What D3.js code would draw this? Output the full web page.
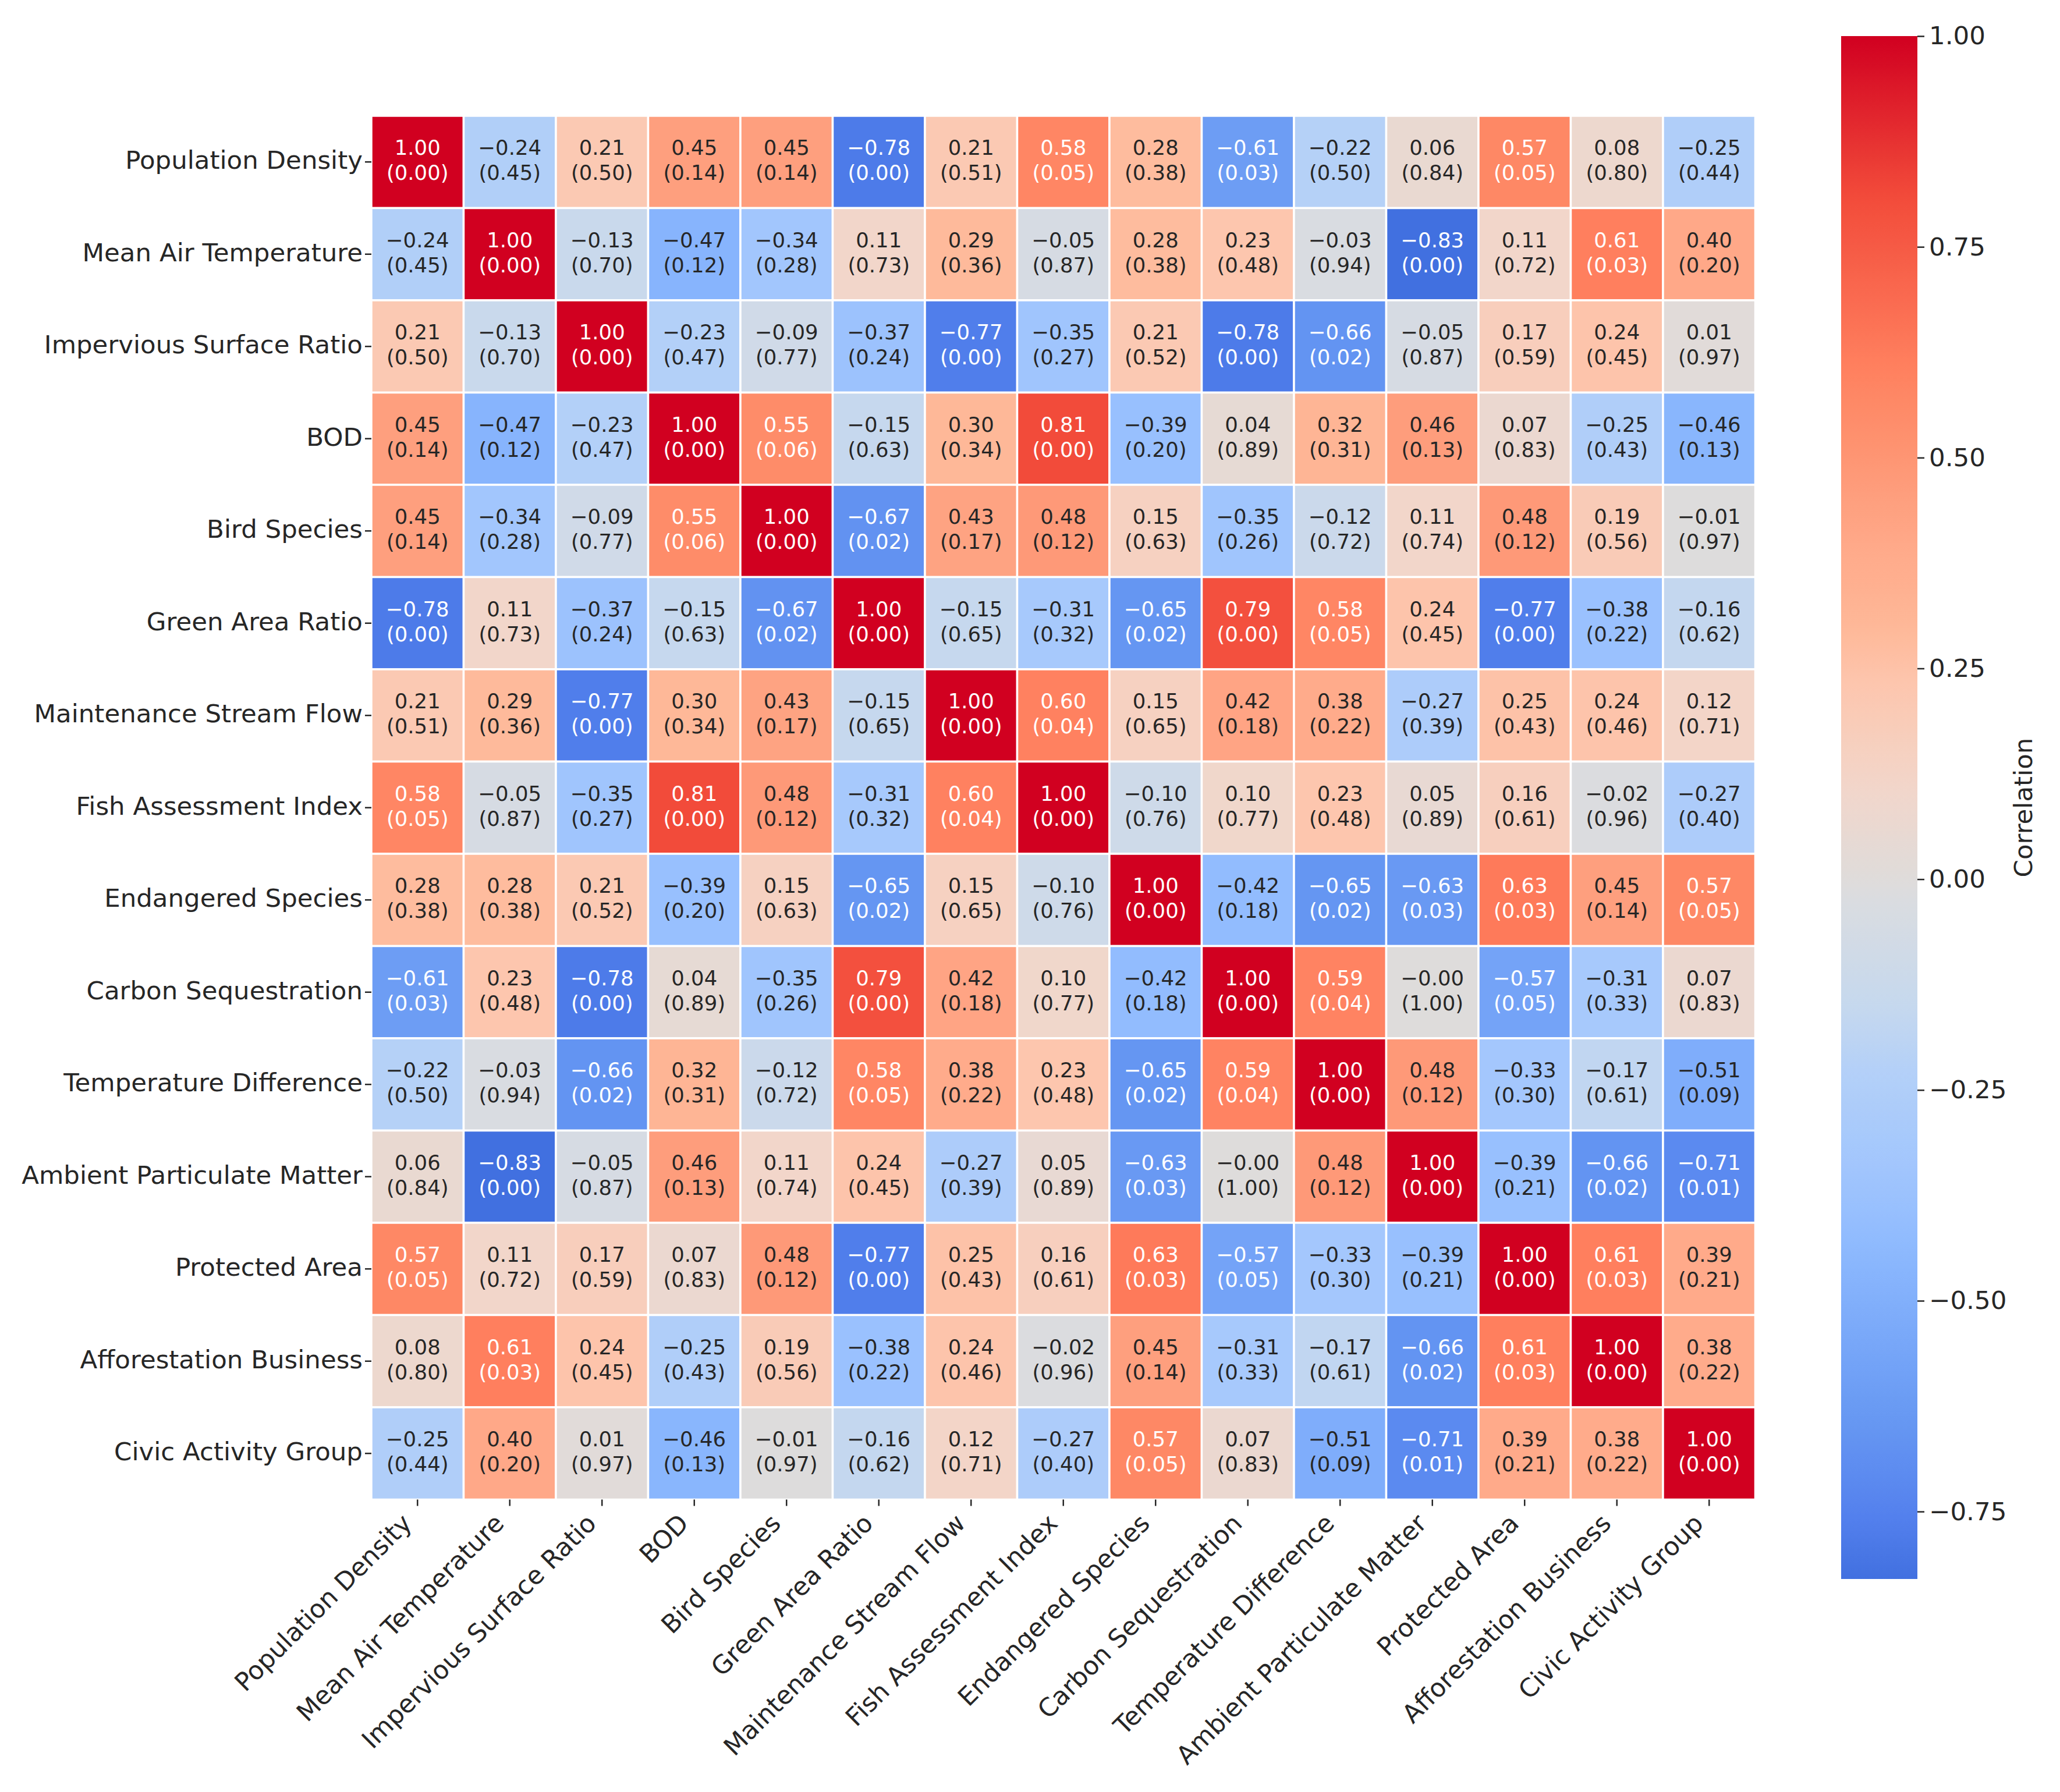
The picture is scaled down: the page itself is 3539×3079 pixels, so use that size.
<!DOCTYPE html>
<html>
<head>
<meta charset="utf-8">
<script src="https://cdn.jsdelivr.net/npm/d3@7"></script>
<style>
  body { margin: 0; background: #fff; }
  text { font-family: "DejaVu Sans", sans-serif; }
</style>
</head>
<body>
<div id="heatmap"></div>
<script>
// Variable names, in row / column order
const labels = [
  "Population Density", "Mean Air Temperature", "Impervious Surface Ratio", "BOD",
  "Bird Species", "Green Area Ratio", "Maintenance Stream Flow", "Fish Assessment Index",
  "Endangered Species", "Carbon Sequestration", "Temperature Difference",
  "Ambient Particulate Matter", "Protected Area", "Afforestation Business", "Civic Activity Group"
];

// Correlation coefficients
const corr = [
  [ 1.00, -0.24,  0.21,  0.45,  0.45, -0.78,  0.21,  0.58,  0.28, -0.61, -0.22,  0.06,  0.57,  0.08, -0.25],
  [-0.24,  1.00, -0.13, -0.47, -0.34,  0.11,  0.29, -0.05,  0.28,  0.23, -0.03, -0.83,  0.11,  0.61,  0.40],
  [ 0.21, -0.13,  1.00, -0.23, -0.09, -0.37, -0.77, -0.35,  0.21, -0.78, -0.66, -0.05,  0.17,  0.24,  0.01],
  [ 0.45, -0.47, -0.23,  1.00,  0.55, -0.15,  0.30,  0.81, -0.39,  0.04,  0.32,  0.46,  0.07, -0.25, -0.46],
  [ 0.45, -0.34, -0.09,  0.55,  1.00, -0.67,  0.43,  0.48,  0.15, -0.35, -0.12,  0.11,  0.48,  0.19, -0.01],
  [-0.78,  0.11, -0.37, -0.15, -0.67,  1.00, -0.15, -0.31, -0.65,  0.79,  0.58,  0.24, -0.77, -0.38, -0.16],
  [ 0.21,  0.29, -0.77,  0.30,  0.43, -0.15,  1.00,  0.60,  0.15,  0.42,  0.38, -0.27,  0.25,  0.24,  0.12],
  [ 0.58, -0.05, -0.35,  0.81,  0.48, -0.31,  0.60,  1.00, -0.10,  0.10,  0.23,  0.05,  0.16, -0.02, -0.27],
  [ 0.28,  0.28,  0.21, -0.39,  0.15, -0.65,  0.15, -0.10,  1.00, -0.42, -0.65, -0.63,  0.63,  0.45,  0.57],
  [-0.61,  0.23, -0.78,  0.04, -0.35,  0.79,  0.42,  0.10, -0.42,  1.00,  0.59, -0.004, -0.57, -0.31,  0.07],
  [-0.22, -0.03, -0.66,  0.32, -0.12,  0.58,  0.38,  0.23, -0.65,  0.59,  1.00,  0.48, -0.33, -0.17, -0.51],
  [ 0.06, -0.83, -0.05,  0.46,  0.11,  0.24, -0.27,  0.05, -0.63, -0.004, 0.48,  1.00, -0.39, -0.66, -0.71],
  [ 0.57,  0.11,  0.17,  0.07,  0.48, -0.77,  0.25,  0.16,  0.63, -0.57, -0.33, -0.39,  1.00,  0.61,  0.39],
  [ 0.08,  0.61,  0.24, -0.25,  0.19, -0.38,  0.24, -0.02,  0.45, -0.31, -0.17, -0.66,  0.61,  1.00,  0.38],
  [-0.25,  0.40,  0.01, -0.46, -0.01, -0.16,  0.12, -0.27,  0.57,  0.07, -0.51, -0.71,  0.39,  0.38,  1.00]
];

// p-values shown in brackets
const pvals = [
  [0.00, 0.45, 0.50, 0.14, 0.14, 0.00, 0.51, 0.05, 0.38, 0.03, 0.50, 0.84, 0.05, 0.80, 0.44],
  [0.45, 0.00, 0.70, 0.12, 0.28, 0.73, 0.36, 0.87, 0.38, 0.48, 0.94, 0.00, 0.72, 0.03, 0.20],
  [0.50, 0.70, 0.00, 0.47, 0.77, 0.24, 0.00, 0.27, 0.52, 0.00, 0.02, 0.87, 0.59, 0.45, 0.97],
  [0.14, 0.12, 0.47, 0.00, 0.06, 0.63, 0.34, 0.00, 0.20, 0.89, 0.31, 0.13, 0.83, 0.43, 0.13],
  [0.14, 0.28, 0.77, 0.06, 0.00, 0.02, 0.17, 0.12, 0.63, 0.26, 0.72, 0.74, 0.12, 0.56, 0.97],
  [0.00, 0.73, 0.24, 0.63, 0.02, 0.00, 0.65, 0.32, 0.02, 0.00, 0.05, 0.45, 0.00, 0.22, 0.62],
  [0.51, 0.36, 0.00, 0.34, 0.17, 0.65, 0.00, 0.04, 0.65, 0.18, 0.22, 0.39, 0.43, 0.46, 0.71],
  [0.05, 0.87, 0.27, 0.00, 0.12, 0.32, 0.04, 0.00, 0.76, 0.77, 0.48, 0.89, 0.61, 0.96, 0.40],
  [0.38, 0.38, 0.52, 0.20, 0.63, 0.02, 0.65, 0.76, 0.00, 0.18, 0.02, 0.03, 0.03, 0.14, 0.05],
  [0.03, 0.48, 0.00, 0.89, 0.26, 0.00, 0.18, 0.77, 0.18, 0.00, 0.04, 1.00, 0.05, 0.33, 0.83],
  [0.50, 0.94, 0.02, 0.31, 0.72, 0.05, 0.22, 0.48, 0.02, 0.04, 0.00, 0.12, 0.30, 0.61, 0.09],
  [0.84, 0.00, 0.87, 0.13, 0.74, 0.45, 0.39, 0.89, 0.03, 1.00, 0.12, 0.00, 0.21, 0.02, 0.01],
  [0.05, 0.72, 0.59, 0.83, 0.12, 0.00, 0.43, 0.61, 0.03, 0.05, 0.30, 0.21, 0.00, 0.03, 0.21],
  [0.80, 0.03, 0.45, 0.43, 0.56, 0.22, 0.46, 0.96, 0.14, 0.33, 0.61, 0.02, 0.03, 0.00, 0.22],
  [0.44, 0.20, 0.97, 0.13, 0.97, 0.62, 0.71, 0.40, 0.05, 0.83, 0.09, 0.01, 0.21, 0.22, 0.00]
];

// Colour bar ticks and range
const cbarTicks = [1.00, 0.75, 0.50, 0.25, 0.00, -0.25, -0.50, -0.75];
const vmin = -0.83, vmax = 1.00;

// Colour stops (value -> colour)
const stopValues = [-0.83, -0.75, -0.65, -0.47, -0.42, -0.34, -0.23, -0.15, -0.03, 0.00,
                    0.11, 0.23, 0.30, 0.40, 0.45, 0.55, 0.61, 0.81, 1.00];
const stopColors = ["#4170e0", "#5582ee", "#6596f2", "#87b4fd", "#92bcfe", "#a2c6fd", "#b3d0f8",
                    "#c6d8ee", "#d9dce1", "#dfdcda", "#f2d6ca", "#fdc6ae", "#feb898", "#ffa888",
                    "#fe9f7e", "#fe8c69", "#ff7f5e", "#f24b3a", "#d10020"];

const width = 3539, height = 3079;
const hmLeft = 638, hmTop = 199, cell = 158.5;
const n = labels.length;

const svg = d3.select("#heatmap")
  .append("svg")
  .attr("width", width)
  .attr("height", height);

const x = d3.scaleBand().domain(labels).range([hmLeft, hmLeft + n * cell]);
const y = d3.scaleBand().domain(labels).range([hmTop, hmTop + n * cell]);
const color = d3.scaleLinear().domain(stopValues).range(stopColors).clamp(true);

const fmt = v => (v < 0 ? "\u2212" : "") + Math.abs(v).toFixed(2);
// light text on strongly coloured cells
const textColor = v => (v >= 0.55 || v <= -0.57) ? "#ffffff" : "#262626";

const cells = [];
corr.forEach((row, i) => row.forEach((v, j) => cells.push({ r: labels[i], c: labels[j], v: v, p: pvals[i][j] })));

// cells
svg.append("g")
  .selectAll("rect")
  .data(cells)
  .enter()
  .append("rect")
  .attr("x", d => x(d.c))
  .attr("y", d => y(d.r))
  .attr("width", x.bandwidth())
  .attr("height", y.bandwidth())
  .attr("fill", d => color(d.v))
  .attr("stroke", "#ffffff")
  .attr("stroke-width", 3.5);

// annotations
const ann = svg.append("g")
  .selectAll("text")
  .data(cells)
  .enter()
  .append("text")
  .attr("text-anchor", "middle")
  .style("font-size", "35.5px")
  .attr("fill", d => textColor(d.v));

ann.append("tspan")
  .attr("x", d => x(d.c) + x.bandwidth() / 2)
  .attr("y", d => y(d.r) + y.bandwidth() / 2 - 12)
  .text(d => fmt(d.v));

ann.append("tspan")
  .attr("x", d => x(d.c) + x.bandwidth() / 2)
  .attr("y", d => y(d.r) + y.bandwidth() / 2 + 31)
  .text(d => "(" + d.p.toFixed(2) + ")");

// y axis
const yAxis = svg.append("g")
  .attr("transform", `translate(${hmLeft}, 0)`)
  .call(d3.axisLeft(y).tickSize(11).tickPadding(4));
yAxis.select(".domain").remove();
yAxis.selectAll("line").attr("stroke", "#262626").attr("stroke-width", 2.5);
yAxis.selectAll("text")
  .style("font-size", "43.5px")
  .attr("dy", "0.28em")
  .attr("fill", "#262626");

// x axis
const hmBottom = hmTop + n * cell;
const xAxis = svg.append("g")
  .attr("transform", `translate(0, ${hmBottom})`)
  .call(d3.axisBottom(x).tickSize(11));
xAxis.select(".domain").remove();
xAxis.selectAll("line").attr("stroke", "#262626").attr("stroke-width", 2.5);
xAxis.selectAll("text")
  .style("font-size", "43.5px")
  .attr("fill", "#262626")
  .attr("x", 0)
  .attr("y", 0)
  .attr("dy", null)
  .attr("dominant-baseline", "hanging")
  .attr("text-anchor", "end")
  .attr("transform", "translate(-30, 21) rotate(-45)");

// colour bar
const cbX = 3163, cbW = 131, cbTop = 62, cbBottom = 2713;
const cScale = d3.scaleLinear().domain([vmin, vmax]).range([cbBottom, cbTop]);

const grad = svg.append("defs")
  .append("linearGradient")
  .attr("id", "cbar")
  .attr("x1", 0).attr("y1", 1)
  .attr("x2", 0).attr("y2", 0);
grad.selectAll("stop")
  .data(d3.range(0, 1.0001, 0.01))
  .enter()
  .append("stop")
  .attr("offset", t => t)
  .attr("stop-color", t => color(vmin + t * (vmax - vmin)));

svg.append("rect")
  .attr("x", cbX)
  .attr("y", cbTop)
  .attr("width", cbW)
  .attr("height", cbBottom - cbTop)
  .attr("fill", "url(#cbar)");

const cAxis = svg.append("g")
  .attr("transform", `translate(${cbX + cbW}, 0)`)
  .call(d3.axisRight(cScale).tickValues(cbarTicks).tickFormat(fmt).tickSize(12).tickPadding(8));
cAxis.select(".domain").remove();
cAxis.selectAll("line").attr("stroke", "#262626").attr("stroke-width", 2.5);
cAxis.selectAll("text")
  .style("font-size", "43.5px")
  .attr("fill", "#262626");

svg.append("text")
  .attr("transform", `translate(3476, ${(cbTop + cbBottom) / 2}) rotate(-90)`)
  .attr("text-anchor", "middle")
  .attr("dominant-baseline", "central")
  .style("font-size", "43.5px")
  .attr("fill", "#262626")
  .text("Correlation");
</script>
</body>
</html>
